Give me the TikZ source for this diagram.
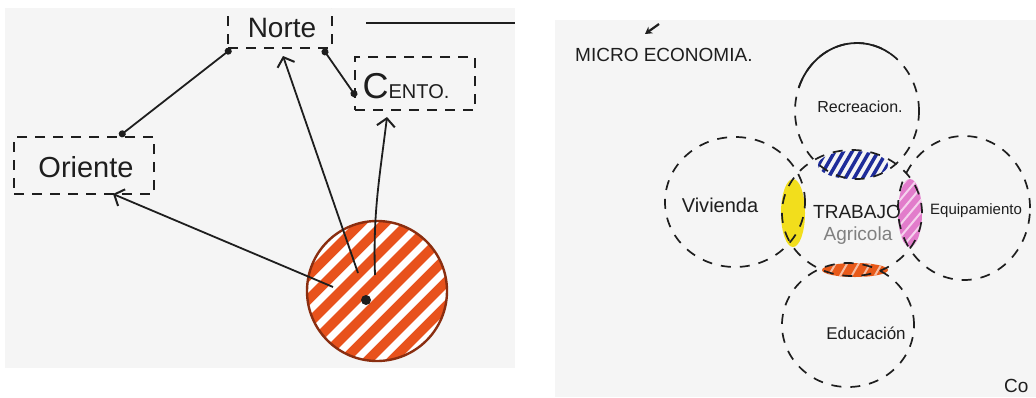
\documentclass[tikz,border=0pt]{standalone}
\usepackage{fontspec}
\setmainfont{Liberation Sans}
\usetikzlibrary{arrows.meta,calc,shapes.geometric}
\definecolor{paper}{HTML}{F5F5F5}
\definecolor{nucfill}{HTML}{E8521C}
\definecolor{nucline}{HTML}{8A2E10}
\definecolor{ink}{HTML}{1E1E1E}
\definecolor{hblue}{HTML}{1E2C9A}
\definecolor{hyellow}{HTML}{F2DE1C}
\definecolor{hpink}{HTML}{E27CCB}
\definecolor{horange}{HTML}{E85A1A}
\tikzset{
  box/.style={draw=ink,line width=2pt,dash pattern=on 10pt off 8pt,inner sep=0pt},
  ring/.style={ellipse,draw=ink,line width=1.7pt,dash pattern=on 10pt off 9pt,inner sep=0pt},
  lens/.style={ellipse,inner sep=0pt},
  link/.style={draw=ink,line width=1.8pt,{Circle[length=7pt]}-{Circle[length=7pt]}},
  flow/.style={draw=ink,line width=1.8pt,-{Straight Barb[length=8pt,width=18pt,line width=2pt]}},
  lbl/.style={text=ink,inner sep=0pt},
}
\newcommand{\fs}[1]{\fontsize{#1}{#1}\selectfont}
\begin{document}
\begin{tikzpicture}[x=1pt,y=1pt]
\useasboundingbox (0,0) rectangle (1036,-397);
\fill[white] (0,0) rectangle (1036,-397);
\fill[paper] (5,-8) rectangle (515,-368);
\fill[paper] (555,-20) rectangle (1036,-397);

% ---------------- left panel ----------------
\begin{scope}
\clip (5,-8) rectangle (515,-368);
\node[circle,minimum size=140,fill=nucfill,inner sep=0pt] (nuc) at (377,-291) {};
\begin{scope}
  \clip (nuc.center) circle[radius=70];
  \begin{scope}[shift={(nuc.center)},rotate=45]
    \foreach \k in {-5,...,5}{\draw[white,line width=7pt] (-90,\k*17) -- (90,\k*17);}
  \end{scope}
\end{scope}
\draw[nucline,line width=2.4pt] (nuc.center) circle[radius=70];
\coordinate (dot) at ($(nuc.center)+(-11,-9)$);
\fill[ink] (dot) circle[radius=5];

\node[box,minimum width=104,minimum height=56] (norte) at (280,-20) {};
\node[box,minimum width=120,minimum height=53] (cento) at (415,-83.5) {};
\node[box,minimum width=140,minimum height=57] (oriente) at (84,-165.5) {};

\node[lbl,font=\fs{28}] (tnorte) at (282,-28) {Norte};
\node[lbl] (tcento) at (406,-86) {{\fs{36}C}{\fs{20}ENTO.}};
\node[lbl,font=\fs{29}] (toriente) at (86,-167) {Oriente};

\coordinate (lineA) at (366,-23);
\coordinate (lineB) at (515,-23);
\draw[ink,line width=1.5pt] (lineA) -- (lineB);

\draw[link] ($(norte.south west)+(4,0)$) -- ($(oriente.north)!0.5!(oriente.north east)$);
\draw[link] ($(norte.south east)+(-10,0)$) -- ($(cento.west)+(2,-13)$);

\draw[flow] ($(nuc.center)+(-19,18)$) -- ($(norte.south)+(3,-7)$);
\draw[flow] ($(nuc.center)+(-2,16)$) to[out=92,in=-97] ($(cento.south)+(-28,-6)$);
\draw[flow] ($(nuc.center)+(-44,4)$) -- ($(oriente.south)+(29,1)$);
\end{scope}

% ---------------- right panel ----------------
\begin{scope}
\clip (555,-20) rectangle (1036,-397);

% overlap lenses
\node[lens,minimum width=70,minimum height=28] (lblue) at (853,-165) {};
\begin{scope}
  \clip (853,-165) ellipse[x radius=35,y radius=14];
  \begin{scope}[shift={(lblue.center)},rotate=60]
    \foreach \k in {-6,...,6}{\draw[hblue,line width=3.5pt] (-60,\k*7.5) -- (60,\k*7.5);}
  \end{scope}
\end{scope}
\node[lens,fill=hyellow,minimum width=24,minimum height=68] (lyellow) at (793,-213) {};
\node[lens,fill=hpink,minimum width=24,minimum height=68] (lpink) at (910,-213) {};
\begin{scope}
  \clip (910,-213) ellipse[x radius=12,y radius=34];
  \begin{scope}[shift={(lpink.center)},rotate=50]
    \foreach \k in {-5,...,5}{\draw[hpink!35,line width=2pt] (-60,\k*8) -- (60,\k*8);}
  \end{scope}
\end{scope}
\node[lens,fill=horange,minimum width=66,minimum height=14] (lorange) at (855,-270) {};
\begin{scope}
  \clip (855,-270) ellipse[x radius=33,y radius=7];
  \begin{scope}[shift={(lorange.center)},rotate=60]
    \foreach \k in {-5,...,5}{\draw[white!60!horange,line width=2pt] (-60,\k*10) -- (60,\k*10);}
  \end{scope}
\end{scope}

% dashed rings
\node[ring,minimum width=124,minimum height=136] (rec) at (857,-111) {};
\node[ring,minimum width=140,minimum height=130] (viv) at (735,-202) {};
\node[ring,minimum width=140,minimum height=126] (trab) at (852,-213) {};
\node[ring,minimum width=132,minimum height=144] (equ) at (964,-208) {};
\node[ring,minimum width=132,minimum height=124] (edu) at (848,-325) {};
\draw[ink,line width=1.8pt] ($(rec.center)+(160:62 and 68)$) arc[start angle=160,end angle=58,x radius=62,y radius=68];

% labels
\node[lbl,anchor=west,font=\fs{19}] (titulo) at (575,-55) {MICRO ECONOMIA.};
\coordinate (mkA) at (659,-24);
\coordinate (mkB) at (645,-34);
\draw[ink,line width=2.2pt,-{Stealth[length=7pt,width=8pt]}] (mkA) -- (mkB);
\node[lbl,font=\fs{16}] (trec) at (860,-107) {Recreacion.};
\node[lbl,font=\fs{20}] (tviv) at (720,-205) {Vivienda};
\node[lbl,font=\fs{19}] (ttrab) at (857,-212) {TRABAJO};
\node[lbl,font=\fs{19},text=gray] (tagr) at (858,-236) {Agricola};
\node[lbl,anchor=west,font=\fs{15}] (tequ) at (930,-211) {Equipamiento};
\node[lbl,font=\fs{17}] (tedu) at (866,-333) {Educación};
\node[lbl,anchor=west,font=\fs{19}] (tco) at (1004,-386) {Co};
\end{scope}
\end{tikzpicture}
\end{document}
